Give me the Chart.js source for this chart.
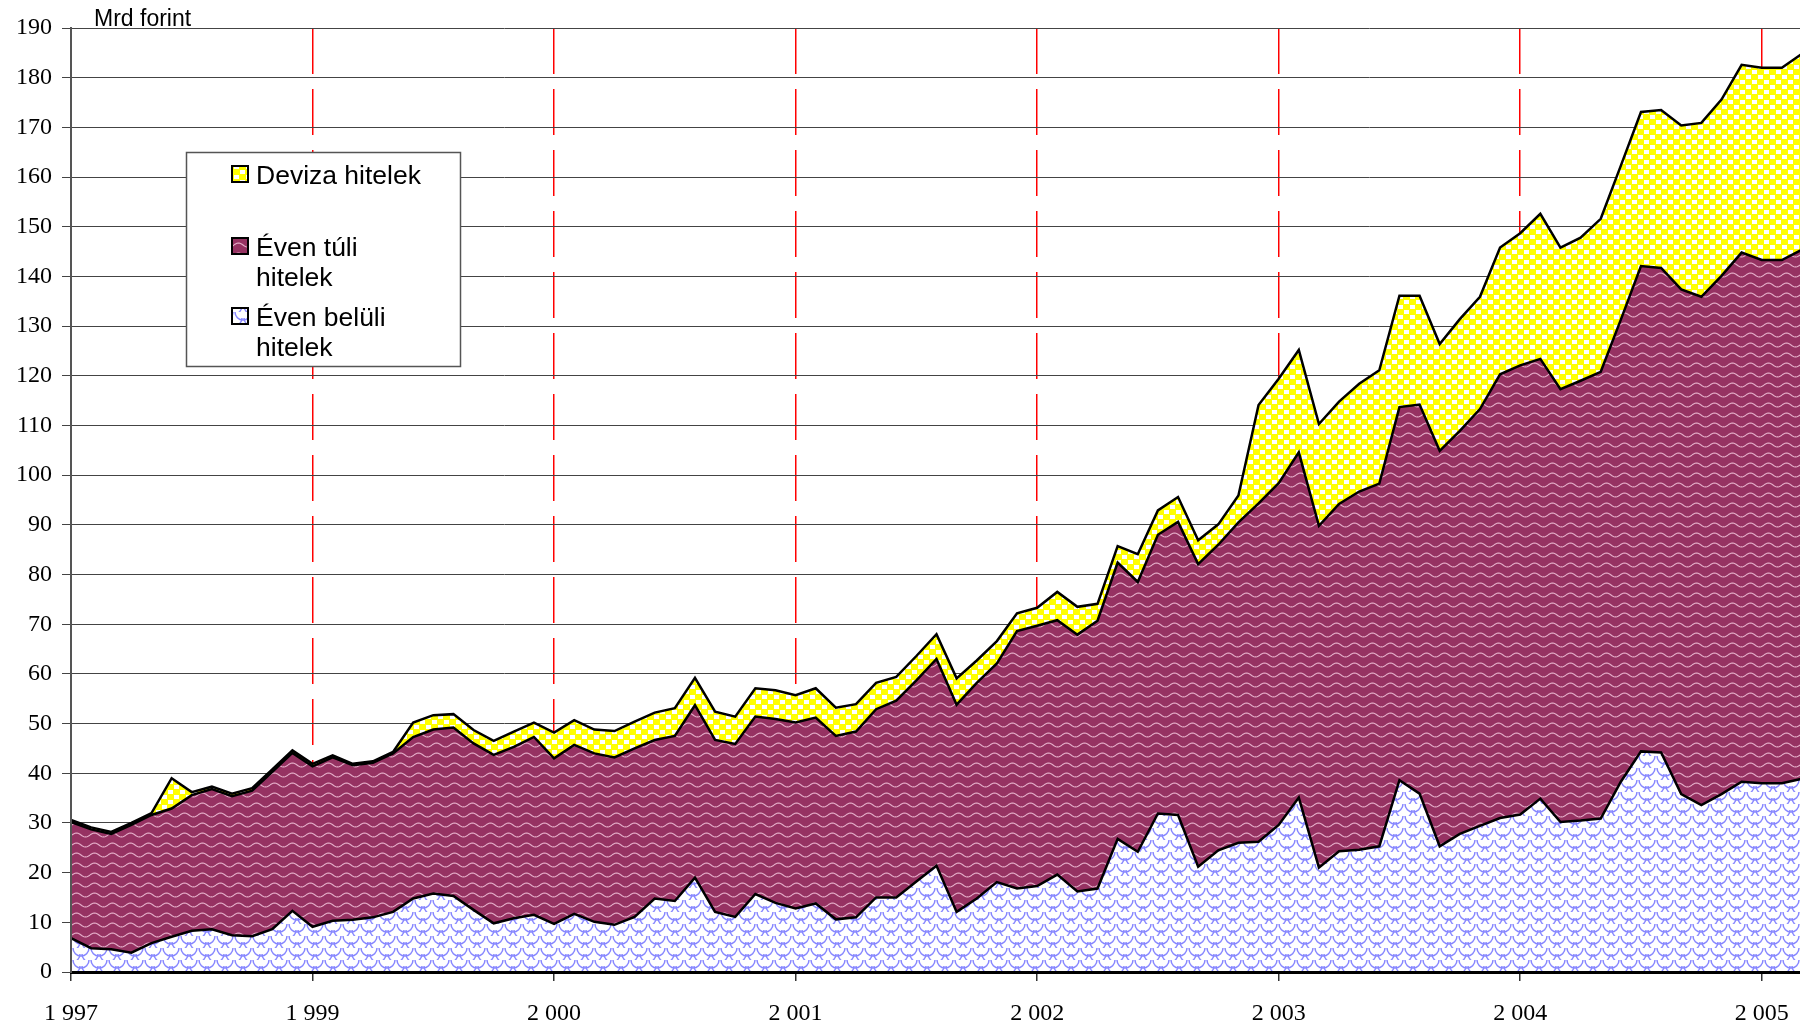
<!DOCTYPE html>
<html>
<head>
<meta charset="utf-8">
<script src="https://cdn.jsdelivr.net/npm/chart.js@4.4.1/dist/chart.umd.min.js"></script>
<style>
  html, body { margin: 0; padding: 0; background: #fff; overflow: hidden; }
  #wrap { width: 1820px; height: 1023px; }
</style>
</head>
<body>
<div id="wrap"><canvas id="hitelChart" width="1820" height="1023"></canvas></div>
<script>
// havi adatok, Mrd forint
const yearLabels = ["1 997", "1 999", "2 000", "2 001", "2 002", "2 003", "2 004", "2 005"];
const unitLabel = "Mrd forint";

const evenBeluli = [6.8, 4.8, 4.6, 3.9, 5.8, 7.1, 8.3, 8.6, 7.4, 7.2,
  8.6, 12.3, 9.1, 10.3, 10.5, 11.0, 12.1, 14.8, 15.8, 15.3,
  12.5, 9.8, 10.8, 11.5, 9.7, 11.7, 10.1, 9.5, 11.1, 14.8,
  14.3, 19.0, 12.1, 11.1, 15.7, 13.9, 12.8, 13.8, 10.6, 11.0,
  15.0, 15.0, 18.2, 21.4, 12.1, 14.8, 18.1, 16.8, 17.3, 19.6,
  16.2, 16.8, 26.8, 24.2, 31.9, 31.6, 21.2, 24.5, 26.0, 26.2,
  29.6, 35.1, 21.0, 24.3, 24.6, 25.3, 38.6, 35.9, 25.3, 27.8,
  29.4, 31.0, 31.7, 34.9, 30.2, 30.5, 30.9, 38.3, 44.4, 44.2,
  35.8, 33.6, 35.8, 38.3, 38.0, 38.0, 38.9];

const evenTuli = [23.4, 23.9, 23.2, 25.7, 25.8, 25.8, 27.3, 28.2, 28.0, 29.3,
  31.7, 31.8, 32.3, 32.9, 31.1, 31.1, 31.9, 32.5, 33.0, 33.9,
  33.5, 33.9, 34.5, 35.8, 33.3, 34.0, 33.9, 33.7, 33.9, 31.9,
  33.2, 34.7, 34.6, 34.8, 35.7, 37.0, 37.4, 37.4, 36.9, 37.4,
  37.9, 39.6, 40.5, 41.6, 41.7, 43.4, 44.0, 51.8, 52.4, 51.2,
  51.7, 53.9, 55.6, 54.3, 56.1, 59.0, 60.9, 61.5, 64.5, 68.1,
  68.8, 69.5, 68.8, 69.9, 72.1, 73.0, 75.1, 78.3, 79.6, 81.1,
  83.9, 89.3, 90.4, 88.5, 87.1, 88.5, 89.9, 93.0, 97.7, 97.5,
  101.6, 102.3, 104.3, 106.5, 105.3, 105.3, 106.5];

const deviza = [0.4, 0.4, 0.4, 0.4, 0.4, 6.1, 0.6, 0.5, 0.5, 0.5,
  0.5, 0.5, 0.5, 0.4, 0.3, 0.3, 0.3, 2.9, 2.9, 2.7,
  2.7, 2.8, 3.1, 2.9, 5.2, 5.0, 4.8, 5.3, 5.4, 5.5,
  5.6, 5.5, 5.7, 5.5, 5.7, 5.8, 5.5, 5.9, 5.7, 5.5,
  5.3, 4.8, 4.9, 5.0, 5.3, 4.5, 4.5, 3.6, 3.6, 5.7,
  5.6, 3.4, 3.3, 5.6, 4.9, 5.0, 4.8, 4.1, 5.4, 19.8,
  21.0, 20.6, 20.5, 20.6, 21.7, 22.8, 22.4, 21.9, 21.5, 22.5,
  22.6, 25.5, 26.6, 29.2, 28.5, 28.8, 30.8, 31.0, 31.0, 31.8,
  33.0, 35.0, 35.5, 37.8, 38.7, 38.7, 39.4];

// 12 havonta evszam felirat
const categories = evenBeluli.map((_, i) => i % 12 === 0 ? yearLabels[i / 12] : "");

function makePattern(w, h, draw) {
  const c = document.createElement("canvas");
  c.width = w; c.height = h;
  const g = c.getContext("2d");
  draw(g, w, h);
  return g.createPattern(c, "repeat");
}

const yellowFill = makePattern(12, 10, (g, w, h) => {
  g.fillStyle = "#ffff00"; g.fillRect(0, 0, w, h);
  g.fillStyle = "#ffffff";
  g.fillRect(0, 0, 5, 4);
  g.fillRect(6, 5, 5, 4);
});

const plumFill = makePattern(18, 10, (g, w, h) => {
  g.fillStyle = "#963262"; g.fillRect(0, 0, w, h);
  g.strokeStyle = "rgba(255,215,235,0.75)";
  g.lineWidth = 1.2;
  g.beginPath();
  for (let x = 0; x <= w; x++) {
    const y = 5 - 2 * Math.sin(2 * Math.PI * x / w);
    x === 0 ? g.moveTo(x, y) : g.lineTo(x, y);
  }
  g.stroke();
});

const blueFill = makePattern(18, 12, (g, w, h) => {
  g.fillStyle = "#ffffff"; g.fillRect(0, 0, w, h);
  g.strokeStyle = "rgb(135,135,255)";
  g.lineWidth = 1.5;
  g.beginPath(); g.arc(9, 0, 8, 0, Math.PI); g.stroke();
  g.beginPath(); g.arc(0, 6, 8, 0, Math.PI); g.stroke();
  g.beginPath(); g.arc(18, 6, 8, 0, Math.PI); g.stroke();
  g.beginPath(); g.arc(9, 12, 8, 0, Math.PI); g.stroke();
});

const legendLines = [["Deviza hitelek"], ["Éven túli", "hitelek"], ["Éven belüli", "hitelek"]];

const overlay = {
  id: "overlay",
  afterDraw(chart) {
    const ctx = chart.ctx;
    ctx.save();
    ctx.fillStyle = "#000";
    ctx.font = '23px "Liberation Sans", Arial, sans-serif';
    ctx.textBaseline = "alphabetic";
    ctx.fillText(unitLabel, 94, 26);

    // jelmagyarazat doboz
    ctx.fillStyle = "#fff";
    ctx.fillRect(186, 152, 274, 214);
    ctx.strokeStyle = "#555";
    ctx.lineWidth = 1.5;
    ctx.strokeRect(186.5, 152.5, 274, 214);

    const fills = [yellowFill, plumFill, blueFill];
    const itemY = [174, 246, 316];
    ctx.font = '26.5px "Liberation Sans", Arial, sans-serif';
    ctx.textBaseline = "middle";
    legendLines.forEach((lines, k) => {
      const y = itemY[k];
      ctx.fillStyle = fills[k];
      ctx.fillRect(232, y - 8, 16, 16);
      ctx.strokeStyle = "#000";
      ctx.lineWidth = 2;
      ctx.strokeRect(232, y - 8, 16, 16);
      ctx.fillStyle = "#000";
      lines.forEach((t, j) => ctx.fillText(t, 256, y + 3 + j * 30));
    });
    ctx.restore();
  }
};

const serif = '"Liberation Serif", "Times New Roman", serif';

new Chart(document.getElementById("hitelChart"), {
  type: "line",
  data: {
    labels: categories,
    datasets: [
      { label: "Éven belüli hitelek", data: evenBeluli, backgroundColor: blueFill, fill: "origin" },
      { label: "Éven túli hitelek", data: evenTuli, backgroundColor: plumFill, fill: "-1" },
      { label: "Deviza hitelek", data: deviza, backgroundColor: yellowFill, fill: "-1" }
    ]
  },
  options: {
    responsive: false,
    animation: false,
    devicePixelRatio: 1,
    layout: { padding: { top: 28, left: 0, right: 0, bottom: 0 } },
    elements: {
      line: { borderColor: "#000", borderWidth: 2.5, tension: 0 },
      point: { radius: 0 }
    },
    plugins: {
      legend: { display: false },
      tooltip: { enabled: false }
    },
    scales: {
      x: {
        offset: false,
        afterFit: s => { s.height = 51; },
        border: { color: "#000", width: 3, z: 1, dash: [46, 15] },
        grid: {
          color: c => (c.index % 12 === 0 && c.index > 0) ? "#ff0000" : "rgba(0,0,0,0)",
          lineWidth: 1.5,
          tickLength: 9,
          tickBorderDash: [],
          tickColor: c => c.index % 12 === 0 ? "#333" : "rgba(0,0,0,0)",
          tickWidth: 1.5
        },
        ticks: {
          autoSkip: false,
          maxRotation: 0,
          padding: 18,
          color: "#000",
          font: { family: serif, size: 24 }
        }
      },
      y: {
        stacked: true,
        min: 0,
        max: 190,
        afterFit: s => { s.width = 71; },
        border: { color: "#555", width: 2, z: 1 },
        grid: { color: "#444", lineWidth: 1, tickLength: 9, tickColor: "#444" },
        ticks: {
          stepSize: 10,
          padding: 10,
          color: "#000",
          font: { family: serif, size: 24 }
        }
      }
    }
  },
  plugins: [overlay]
});
</script>
</body>
</html>
